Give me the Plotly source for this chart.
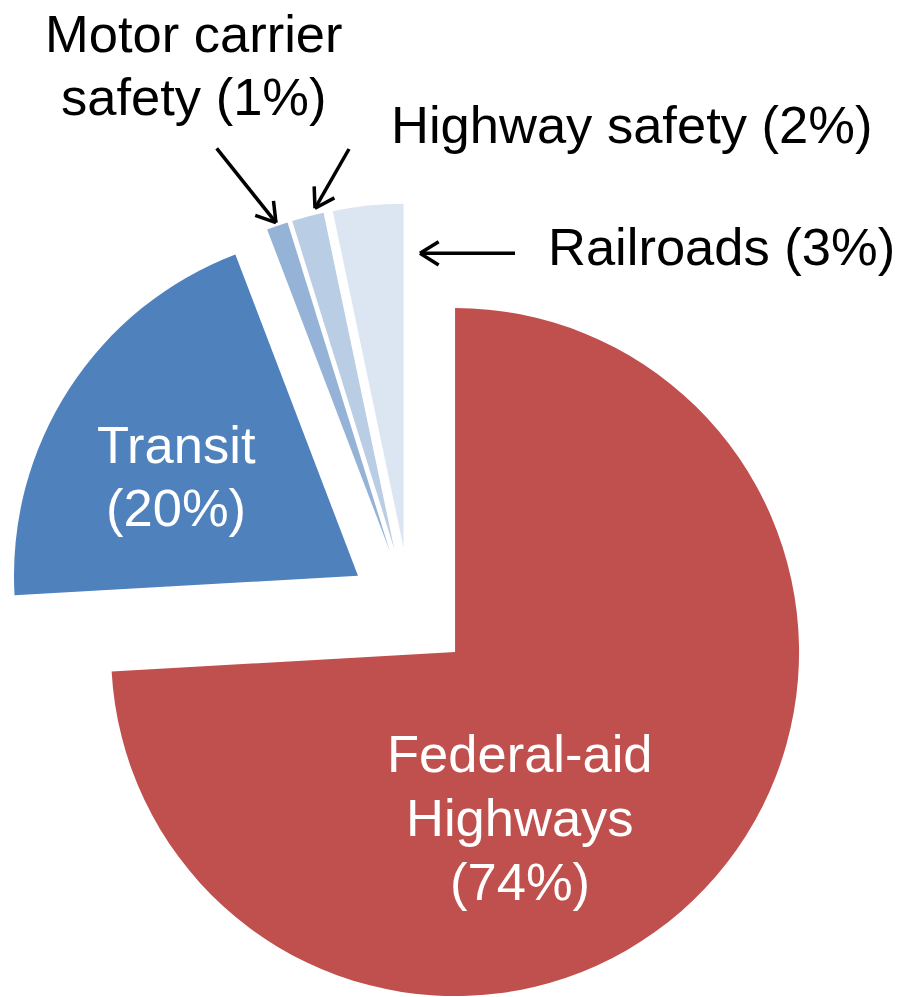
import numpy as np
import plotly.graph_objects as go

# ---------------- data ----------------
labels = ["Federal-aid Highways", "Transit", "Motor carrier safety", "Highway safety", "Railroads"]
values = [74.1, 20.1, 1.0, 1.5, 3.3]          # share of budget (%)
colors = ["#C0504D", "#4F81BD", "#95B3D7", "#B9CDE5", "#DCE6F2"]
# text lines of each label ({p} -> rounded percentage)
label_lines = [
    ["Federal-aid", "Highways", "({p}%)"],
    ["Transit", "({p}%)"],
    ["Motor carrier", "safety ({p}%)"],
    ["Highway safety ({p}%)"],
    ["Railroads ({p}%)"],
]

# ---------------- layout constants (px) ----------------
W, H = 902, 997
CX, CY = 410.0, 609.5      # centre of the un-exploded pie
R = 344.0                  # pie radius
EXPLODE = 62.0             # explosion distance of every slice
FONT = "Liberation Sans, Arial, sans-serif"
FS = 52.5

# label placement: (x centre of each line, y centre of first line, line step, colour)
label_pos = [
    (520, 753, 64, "white"),
    (176, 444, 63, "white"),
    (194, 33, 63, "black"),
    (631, 125, 0, "black"),
    (721, 247, 0, "black"),
]
# leader arrows (tail -> tip), px
arrows = [
    None,
    None,
    ((216.7, 148.3), (276.0, 222.7)),
    ((349.0, 149.0), (315.0, 208.3)),
    ((515.0, 253.3), (420.0, 253.3)),
]

fig = go.Figure()
total = float(sum(values))
cum = 0.0
for i, v in enumerate(values):
    mid = (cum + v / 2.0) / total * 2 * np.pi
    cum += v
    vx = CX + EXPLODE * np.sin(mid)
    vy = CY - EXPLODE * np.cos(mid)
    x0, x1 = max(0.0, (vx - R) / W), min(1.0, (vx + R) / W)
    y0, y1 = max(0.0, 1 - (vy + R) / H), min(1.0, 1 - (vy - R) / H)
    fig.add_trace(go.Pie(
        labels=labels, values=values, sort=False, direction="clockwise", rotation=0,
        marker=dict(colors=[colors[j] if j == i else "rgba(0,0,0,0)" for j in range(len(values))],
                    line=dict(width=0)),
        textinfo="none", hoverinfo="label+percent", showlegend=False,
        domain=dict(x=[x0, x1], y=[y0, y1]),
    ))

annotations = []
shapes = []
for i, v in enumerate(values):
    p = int(round(v))
    x, y, step, col = label_pos[i]
    for k, line in enumerate(label_lines[i]):
        annotations.append(dict(
            text=line.format(p=p), x=x / W, y=1 - (y + k * step) / H,
            xref="paper", yref="paper", xanchor="center", yanchor="middle",
            showarrow=False, font=dict(family=FONT, size=FS, color=col),
        ))
    if arrows[i] is not None:
        (tx, ty), (hx, hy) = arrows[i]
        shapes.append(dict(type="line", xref="paper", yref="paper",
                           x0=tx / W, y0=1 - ty / H, x1=hx / W, y1=1 - hy / H,
                           line=dict(color="black", width=3.5)))
        ang = np.arctan2(ty - hy, tx - hx)
        for s in (-1, 1):
            a = ang + s * np.radians(32)
            ex, ey = hx + 22 * np.cos(a), hy + 22 * np.sin(a)
            shapes.append(dict(type="line", xref="paper", yref="paper",
                               x0=hx / W, y0=1 - hy / H, x1=ex / W, y1=1 - ey / H,
                               line=dict(color="black", width=3.5)))

fig.update_layout(
    width=W, height=H,
    margin=dict(l=0, r=0, t=0, b=0),
    paper_bgcolor="white", plot_bgcolor="white",
    font=dict(family=FONT),
    annotations=annotations, shapes=shapes,
    showlegend=False,
)
fig.write_html("out.html",
               config={"displayModeBar": False},
               post_script="document.body.style.margin='0';document.body.style.overflow='hidden';")
